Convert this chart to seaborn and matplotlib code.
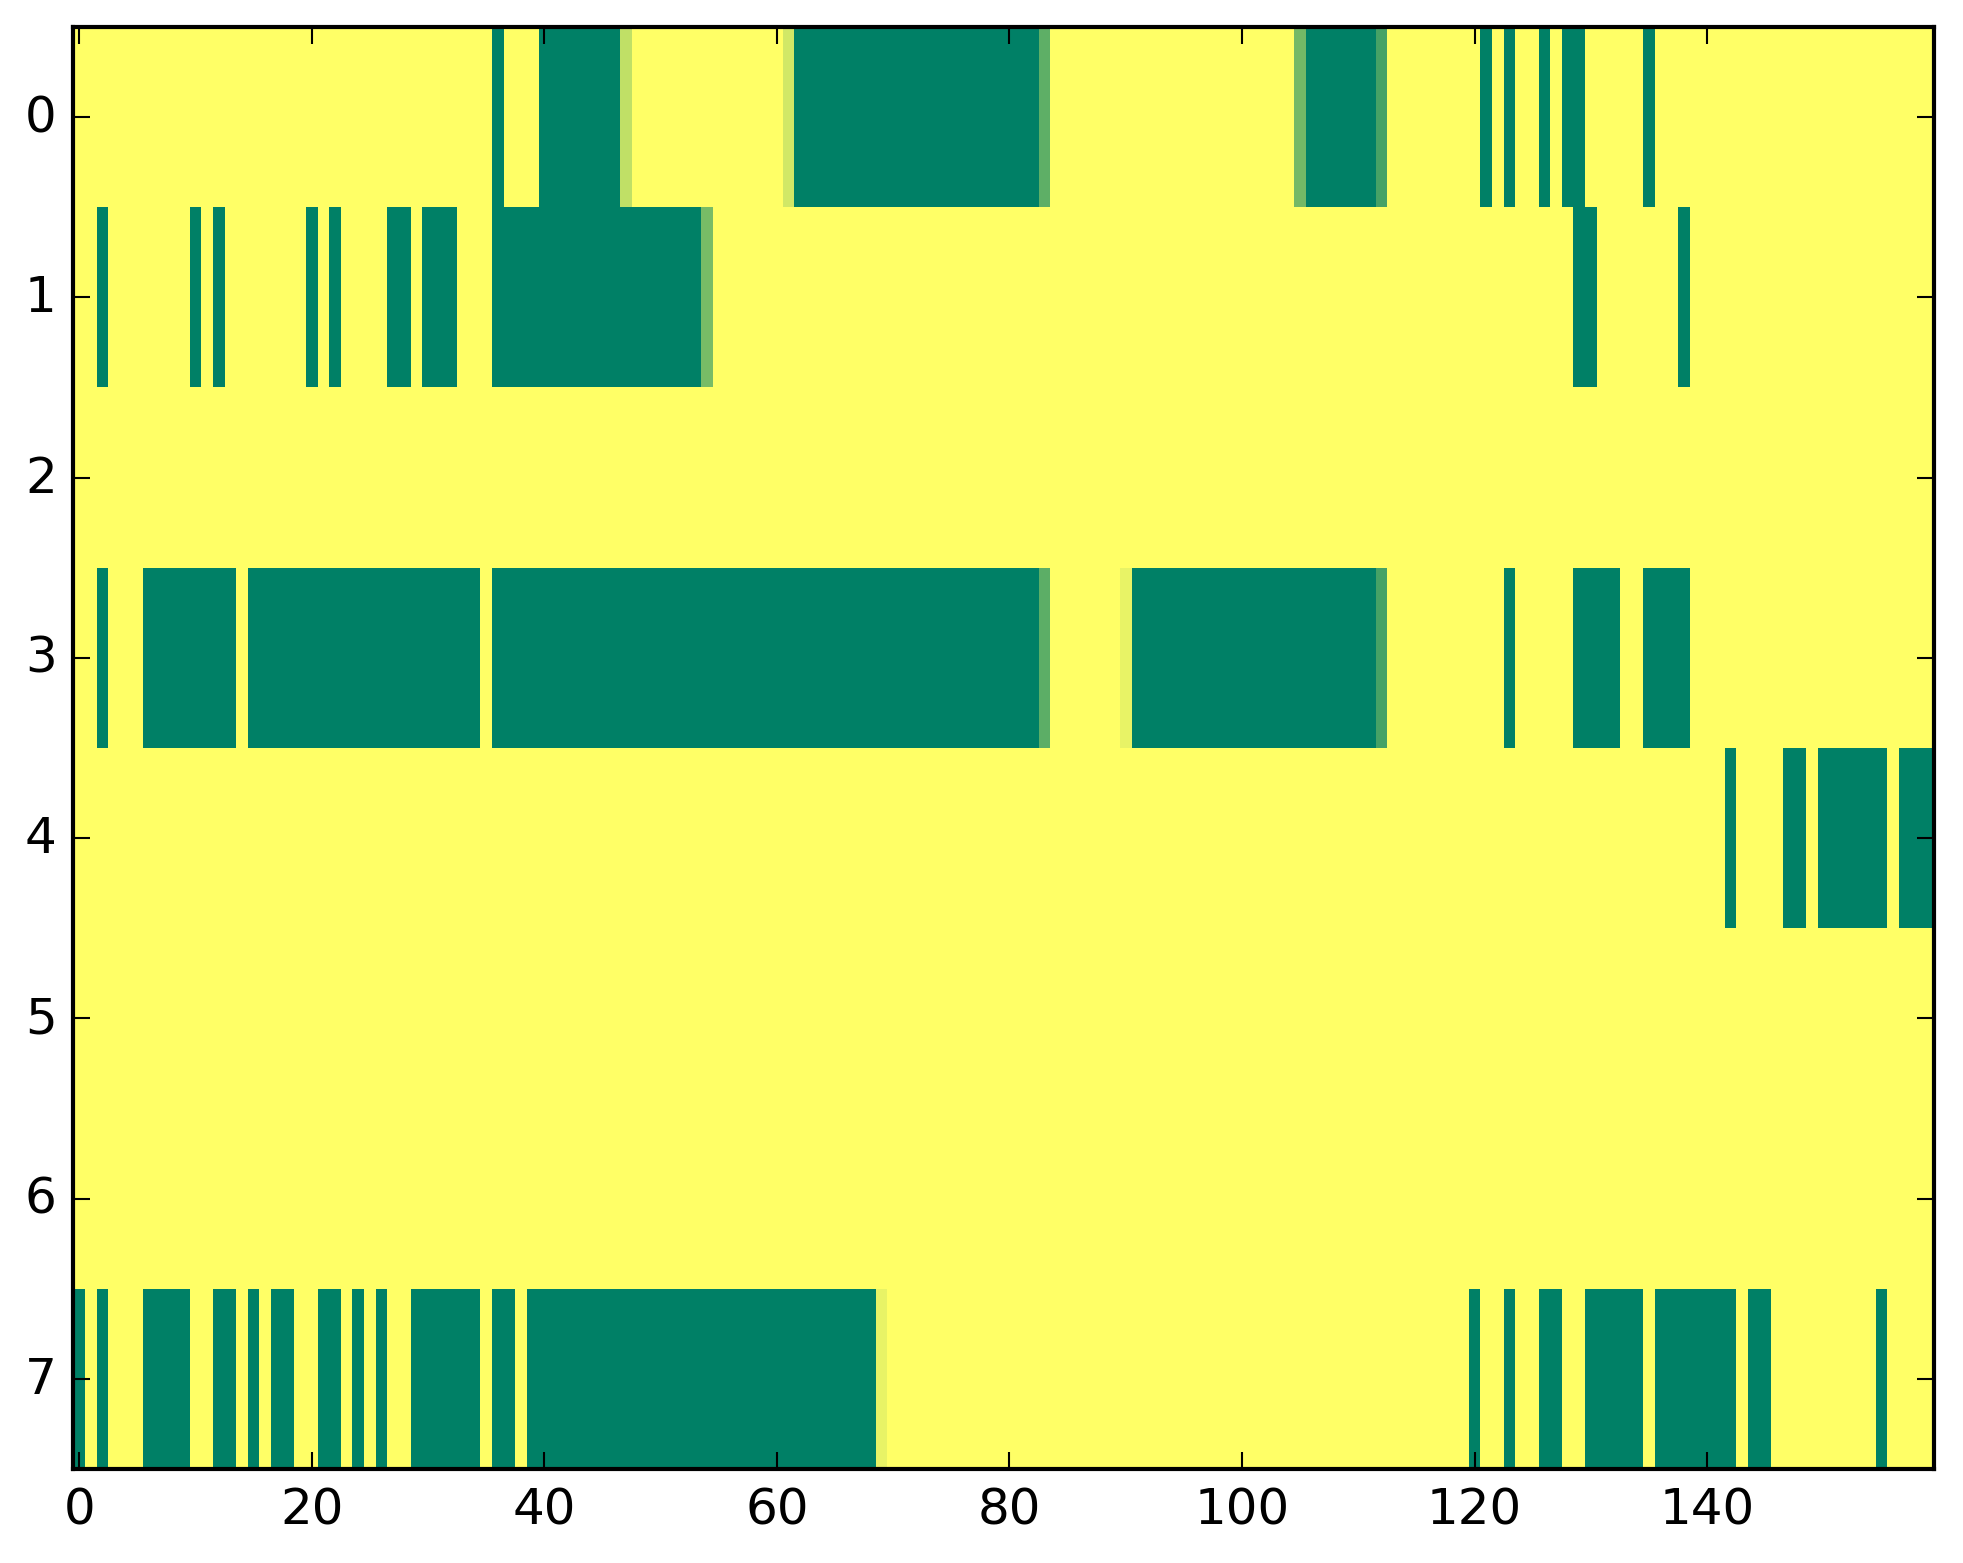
import numpy as np
import matplotlib
matplotlib.use("Agg")
import matplotlib.pyplot as plt
import seaborn as sns

# ---- data: 8 rows x 160 columns, default value 1.0 (yellow) ----
n_rows = 8
n_cols = 160
# run-length segments per row: (first_col, last_col, value)
row0_segments = [(36, 36, 0.0), (40, 46, 0.0), (47, 47, 0.75), (61, 61, 0.82),
                 (62, 82, 0.0), (83, 83, 0.37), (105, 105, 0.45), (106, 111, 0.0),
                 (112, 112, 0.27), (121, 121, 0.0), (123, 123, 0.0), (126, 126, 0.0),
                 (128, 129, 0.0), (135, 135, 0.0)]
row1_segments = [(2, 2, 0.0), (10, 10, 0.0), (12, 12, 0.0), (20, 20, 0.0), (22, 22, 0.0),
                 (27, 28, 0.0), (30, 32, 0.0), (36, 53, 0.0), (54, 54, 0.47),
                 (129, 130, 0.0), (138, 138, 0.0)]
row2_segments = []
row3_segments = [(2, 2, 0.0), (6, 13, 0.0), (15, 34, 0.0), (36, 82, 0.0), (83, 83, 0.36),
                 (90, 90, 0.91), (91, 111, 0.0), (112, 112, 0.27), (123, 123, 0.0),
                 (129, 132, 0.0), (135, 138, 0.0)]
row4_segments = [(142, 142, 0.0), (147, 148, 0.0), (150, 155, 0.0), (157, 159, 0.0)]
row5_segments = []
row6_segments = []
row7_segments = [(0, 0, 0.0), (2, 2, 0.0), (6, 9, 0.0), (12, 13, 0.0), (15, 15, 0.0),
                 (17, 18, 0.0), (21, 22, 0.0), (24, 24, 0.0), (26, 26, 0.0), (29, 34, 0.0),
                 (36, 37, 0.0), (39, 68, 0.0), (69, 69, 0.91), (120, 120, 0.0),
                 (123, 123, 0.0), (126, 127, 0.0), (130, 134, 0.0), (136, 142, 0.0),
                 (144, 145, 0.0), (155, 155, 0.0)]

x_tick_values = [0, 20, 40, 60, 80, 100, 120, 140]
y_tick_values = [0, 1, 2, 3, 4, 5, 6, 7]

all_rows = [row0_segments, row1_segments, row2_segments, row3_segments,
            row4_segments, row5_segments, row6_segments, row7_segments]
data = np.ones((n_rows, n_cols))
for r, segs in enumerate(all_rows):
    for a, b, v in segs:
        data[r, a:b + 1] = v

# ---- figure ----
sns.set_style("white")
plt.rcParams['font.family'] = ['DejaVu Sans']
fig = plt.figure(figsize=(1963 / 300, 1564 / 300), dpi=300)
ax = fig.add_axes([0.0374, 0.0601, 0.9852 - 0.0374, 0.9821 - 0.0601])

sns.heatmap(data, cmap="summer", vmin=0, vmax=1, cbar=False, ax=ax,
            xticklabels=False, yticklabels=False, linewidths=0)

ax.set_axisbelow(False)
ax.set_xticks([v + 0.5 for v in x_tick_values])
ax.set_xticklabels([str(v) for v in x_tick_values], rotation=0)
ax.set_yticks([v + 0.5 for v in y_tick_values])
ax.set_yticklabels([str(v) for v in y_tick_values], rotation=0, va="center")

for side in ["left", "right", "top", "bottom"]:
    ax.spines[side].set_visible(True)
    ax.spines[side].set_color("black")
    ax.spines[side].set_linewidth(1.0)
    ax.spines[side].set_zorder(5)

ax.tick_params(axis="both", which="major", direction="in", length=4, width=0.5,
               color="black", labelsize=12, labelcolor="black", pad=4,
               top=True, right=True, bottom=True, left=True,
               labeltop=False, labelright=False)
ax.set_xlabel("")
ax.set_ylabel("")

fig.savefig("out.png", dpi=300, facecolor="white")
